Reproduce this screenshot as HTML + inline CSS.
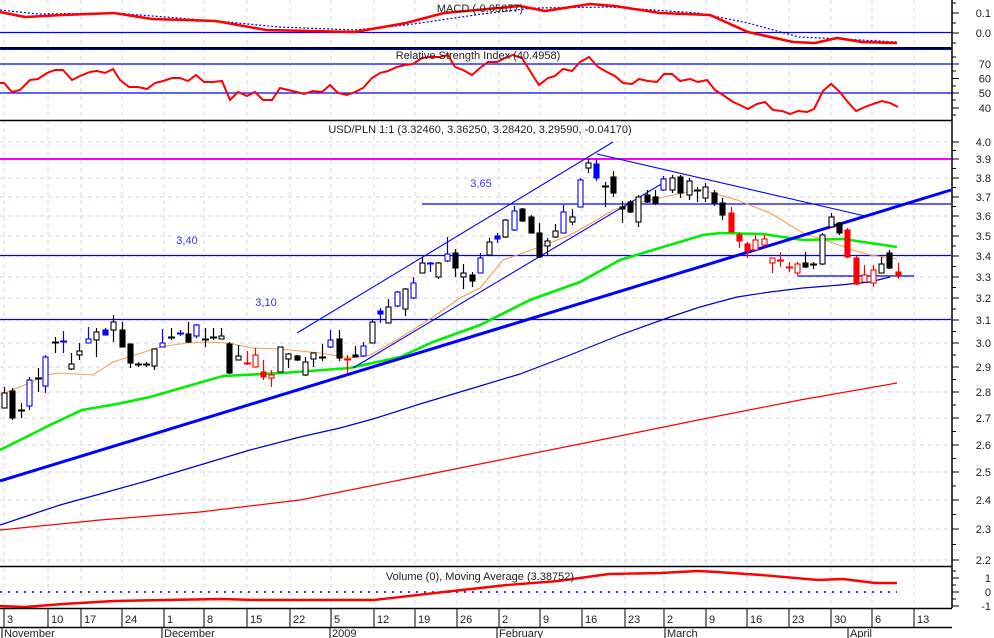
<!DOCTYPE html>
<html><head><meta charset="utf-8">
<style>
html,body{margin:0;padding:0;background:#fff;}
svg{display:block;font-family:"Liberation Sans",sans-serif;}
</style></head>
<body>
<svg id="c" width="994" height="638" viewBox="0 0 994 638" xmlns="http://www.w3.org/2000/svg">
<rect width="994" height="638" fill="#fff"/>
<g id="grid"></g>
<!-- MACD -->
<line x1="0" y1="32.5" x2="952" y2="32.5" stroke="#0000ff" stroke-width="1.3"/>
<polyline fill="none" stroke="#0000cc" stroke-width="1.2" stroke-dasharray="2,2" points="0,10 38,14 114,13 165,17 228,22 279,27 355,30 406,25 482,14 533,8 609,7 698,13 748,23 799,37 843,39 897,42"/>
<polyline fill="none" stroke="#ff0000" stroke-width="2.6" points="0,12 25,17 63,15 114,13 152,19 216,21 266,30 355,32 406,23 444,13 520,6 545,11 590,4 615,6 660,13 710,15 748,32 793,42 815,43 837,38 862,42 897,43"/>
<text x="480" y="12" font-size="11" text-anchor="middle" fill="#222">MACD (-0.05677)</text>
<line x1="0" y1="48" x2="952" y2="48" stroke="#000" stroke-width="2"/>
<line x1="0" y1="49.5" x2="952" y2="49.5" stroke="#0000ff" stroke-width="1"/>
<!-- RSI -->
<line x1="0" y1="64" x2="952" y2="64" stroke="#0000ff" stroke-width="1.3"/>
<line x1="0" y1="93" x2="952" y2="93" stroke="#0000ff" stroke-width="1.3"/>
<polyline fill="none" stroke="#ff0000" stroke-width="2" points="0,83 4,83 12,92 20,90 30,80 38,79 47,73 55,70 63,70 72,80 80,76 90,72 97,71 105,73 113,69 120,80 129,87 138,87 147,89 155,83 163,81 172,78 180,78 188,81 196,75 204,82 213,82 222,81 230,100 238,92 247,96 255,92 263,100 272,100 280,88 288,90 297,92 304,94 313,91 322,92 330,85 338,93 347,95 355,92 363,88 372,78 380,73 388,71 397,67 405,65 413,64 422,58 430,57 440,57 448,55 455,67 463,70 472,75 480,68 488,62 497,62 505,58 513,55 522,58 530,71 539,85 548,78 555,76 563,69 572,71 580,62 589,57 598,67 607,72 615,76 623,83 632,84 639,79 648,81 657,82 664,74 672,74 680,81 690,79 698,82 707,80 715,90 723,95 733,102 740,105 748,109 757,104 765,102 773,110 782,111 790,114 798,111 807,112 814,109 823,91 831,84 839,91 847,101 856,111 865,107 873,104 882,101 890,103 898,107"/>
<text x="478" y="59" font-size="11" text-anchor="middle" fill="#222">Relative Strength Index (40.4958)</text>
<line x1="0" y1="120.5" x2="952" y2="120.5" stroke="#000" stroke-width="1.5"/>
<!-- Main -->
<text x="480" y="133" font-size="11" text-anchor="middle" fill="#222">USD/PLN 1:1 (3.32460, 3.36250, 3.28420, 3.29590, -0.04170)</text>
<line x1="0" y1="159" x2="951" y2="159" stroke="#ff00ff" stroke-width="2"/>
<line x1="0" y1="255.5" x2="951" y2="255.5" stroke="#0000ff" stroke-width="1.2"/>
<line x1="0" y1="319.5" x2="951" y2="319.5" stroke="#0000ff" stroke-width="1.2"/>
<line x1="422" y1="204" x2="951" y2="204" stroke="#0000ff" stroke-width="1.2"/>
<line x1="797" y1="276" x2="914" y2="276" stroke="#0000ff" stroke-width="1.2"/>
<text x="187" y="244" font-size="11" text-anchor="middle" fill="#3333ff">3,40</text>
<text x="266" y="306" font-size="11" text-anchor="middle" fill="#3333ff">3,10</text>
<text x="481" y="187" font-size="11" text-anchor="middle" fill="#3333ff">3,65</text>
<!-- MAs -->
<polyline fill="none" stroke="#ff0000" stroke-width="1.2" points="0,530 100,520 200,512 300,500 400,480 500,460 600,440 703,419 800,400 897,383"/>
<polyline fill="none" stroke="#0000cc" stroke-width="1.2" points="0,525 30,515 60,505 100,494 150,480 200,465 250,450 300,437 340,428 373,419 420,404 480,386 520,374 570,355 620,335 670,317 700,307 737,297 770,292 803,288 840,285 870,282 890,277"/>
<polyline fill="none" stroke="#00ee00" stroke-width="2.6" points="0,450 20,440 50,425 82,410 117,404 150,397 223,376 283,373 350,368 400,357 433,342 480,325 530,300 580,282 620,260 653,250 703,235 720,233 763,234 803,240 843,239 897,247"/>
<polyline fill="none" stroke="#f5a050" stroke-width="1.1" points="0,395 20,387 47,375 60,373 93,375 113,362 160,347 187,343 207,342 227,343 253,348 280,349 320,353 350,358 370,355 400,338 433,317 460,298 480,288 503,260 537,248 570,235 597,220 613,210 637,203 687,192 703,190 737,200 770,213 803,233 830,242 853,250 870,255 897,259"/>
<!-- trend lines -->
<line x1="0" y1="481" x2="951" y2="190" stroke="#0000ff" stroke-width="3"/>
<line x1="297" y1="333" x2="613" y2="142" stroke="#0000ff" stroke-width="1.1"/>
<line x1="353" y1="368" x2="663" y2="183" stroke="#0000ff" stroke-width="1.1"/>
<line x1="597" y1="154" x2="865" y2="216" stroke="#0000ff" stroke-width="1.1"/>
<g id="candles"></g>
<!-- Volume -->
<line x1="0" y1="566.5" x2="952" y2="566.5" stroke="#000" stroke-width="1.5"/>
<line x1="0" y1="592" x2="897" y2="592" stroke="#0000cc" stroke-width="1.5" stroke-dasharray="2,6"/>
<polyline fill="none" stroke="#ff0000" stroke-width="2.4" points="0,606 25,607 63,604 114,601 165,600 222,599 254,600 374,600 444,592 507,585 558,581 609,574 660,573 698,571 717,572 761,575 818,580 843,579 875,583 897,583"/>
<text x="480" y="580" font-size="11" text-anchor="middle" fill="#222">Volume (0), Moving Average (3.38752)</text>
<!-- date axis -->
<line x1="0" y1="608.5" x2="952" y2="608.5" stroke="#000" stroke-width="1.5"/>
<line x1="0" y1="627.5" x2="952" y2="627.5" stroke="#000" stroke-width="1.5"/>
<line x1="952" y1="0" x2="952" y2="608" stroke="#000" stroke-width="1.5"/>
<g id="axis"></g>
</svg>
<script>
(function(){
var NS="http://www.w3.org/2000/svg";
function el(p,t,a,txt){var e=document.createElementNS(NS,t);for(var k in a)e.setAttribute(k,a[k]);if(txt!==undefined)e.textContent=txt;p.appendChild(e);return e;}
var grid=document.getElementById('grid'),axis=document.getElementById('axis'),cg=document.getElementById('candles');
var weeks=[[4,'3'],[48,'10'],[81,'17'],[122,'24'],[164,'1'],[204,'8'],[247,'15'],[290,'22'],[331,'5'],[374,'12'],[415,'19'],[457,'26'],[499,'2'],[540,'9'],[582,'16'],[625,'23'],[664,'2'],[706,'9'],[747,'16'],[789,'23'],[831,'30'],[872,'6'],[914,'13']];
weeks.forEach(function(w){
 el(grid,'line',{x1:w[0],y1:0,x2:w[0],y2:607,stroke:'#d4d4ee','stroke-dasharray':'4,4','stroke-width':1});
 el(axis,'line',{x1:w[0],y1:608,x2:w[0],y2:627,stroke:'#000','stroke-width':1});
 el(axis,'text',{x:w[0]+3,y:623,'font-size':11,fill:'#222'},w[1]);
});
[[3,'November'],[163,'December'],[331,'2009'],[498,'February'],[666,'March'],[849,'April']].forEach(function(m){
 el(axis,'line',{x1:m[0]-1,y1:627,x2:m[0]-1,y2:638,stroke:'#000','stroke-width':1});
 el(axis,'text',{x:m[0]+1,y:637,'font-size':11,fill:'#222'},m[1]);
});
var P=[['4.0',142],['3.9',159],['3.8',178],['3.7',197],['3.6',216],['3.5',236],['3.4',256],['3.3',277],['3.2',298],['3.1',320],['3.0',343],['2.9',367],['2.8',392],['2.7',418],['2.6',445],['2.5',472],['2.4',500],['2.3',529],['2.2',560]];
P.forEach(function(p,i){
 el(grid,'line',{x1:0,y1:p[1],x2:951,y2:p[1],stroke:'#d4d4ee','stroke-dasharray':'4,4','stroke-width':1});
 el(axis,'line',{x1:952,y1:p[1],x2:959,y2:p[1],stroke:'#000'});
 if(i<P.length-1){var m=(p[1]+P[i+1][1])/2;el(axis,'line',{x1:952,y1:m,x2:956,y2:m,stroke:'#000'});}
 el(axis,'text',{x:991,y:p[1]+4,'font-size':11,'text-anchor':'end',fill:'#222'},p[0]);
});
[['0.1',13],['0.0',33]].forEach(function(p){el(axis,'line',{x1:952,y1:p[1],x2:959,y2:p[1],stroke:'#000'});el(axis,'text',{x:991,y:p[1]+4,'font-size':11,'text-anchor':'end',fill:'#222'},p[0]);});
[3,23,43].forEach(function(y){el(axis,'line',{x1:952,y1:y,x2:956,y2:y,stroke:'#000'});});
[['70',64],['60',78.5],['50',93],['40',108]].forEach(function(p){el(axis,'line',{x1:952,y1:p[1],x2:959,y2:p[1],stroke:'#000'});el(axis,'text',{x:991,y:p[1]+4,'font-size':11,'text-anchor':'end',fill:'#222'},p[0]);});
[57,71,86,100,115].forEach(function(y){el(axis,'line',{x1:952,y1:y,x2:956,y2:y,stroke:'#000'});});
[['1',578],['0',592],['-1',606]].forEach(function(p){el(axis,'line',{x1:952,y1:p[1],x2:959,y2:p[1],stroke:'#000'});el(axis,'text',{x:991,y:p[1]+4,'font-size':11,'text-anchor':'end',fill:'#222'},p[0]);});
[571,585,599].forEach(function(y){el(axis,'line',{x1:952,y1:y,x2:956,y2:y,stroke:'#000'});});
var C=[[4,387,393,408,408,'w'],[12,388,391,418,420,'b'],[21,403,410,410,418,'b'],[29,377,380,406,410,'B'],[38,368,378,378,392,'w'],[45,355,357,386,393,'B'],[55,337,342,342,353,'w'],[63,331,341,341,353,'B'],[71,353,364,369,370,'w'],[79,343,351,355,360,'w'],[88,327,339,343,343,'B'],[96,328,332,340,357,'w'],[105,328,330,335,335,'F'],[113,315,322,330,342,'w'],[122,322,330,347,347,'b'],[130,344,344,363,368,'b'],[138,362,364,364,367,'b'],[146,362,364,364,367,'b'],[154,349,349,366,370,'w'],[162,329,343,347,347,'B'],[171,328,337,337,340,'b'],[180,330,333,333,336,'B'],[188,322,334,342,343,'b'],[196,324,325,336,338,'B'],[205,328,339,339,347,'b'],[213,328,337,337,340,'b'],[221,328,336,339,339,'w'],[229,342,344,373,374,'b'],[238,345,356,360,360,'w'],[247,351,363,363,365,'R'],[255,348,355,367,367,'r'],[263,360,372,377,380,'R'],[271,370,375,378,387,'r'],[280,347,347,372,372,'w'],[288,353,354,359,368,'w'],[297,355,356,360,361,'b'],[305,357,362,375,376,'w'],[313,353,353,359,367,'w'],[322,344,357,357,361,'b'],[330,330,340,347,348,'B'],[339,330,339,358,361,'b'],[347,355,359,359,373,'R'],[355,346,355,357,357,'b'],[363,342,346,356,357,'B'],[372,320,322,343,343,'w'],[380,308,311,314,323,'F'],[388,299,307,323,323,'w'],[397,291,292,306,307,'B'],[405,288,289,309,316,'w'],[413,277,283,298,299,'B'],[422,257,263,273,273,'w'],[430,262,263,263,272,'B'],[438,262,263,277,279,'w'],[447,237,254,261,262,'B'],[455,249,253,268,277,'b'],[463,264,273,277,289,'w'],[472,272,275,281,287,'b'],[480,253,258,273,273,'B'],[489,238,242,255,255,'w'],[497,233,236,239,243,'F'],[505,219,220,237,238,'w'],[514,206,211,230,231,'B'],[522,208,209,221,222,'b'],[531,215,217,233,233,'b'],[539,223,233,257,258,'b'],[547,238,241,246,255,'w'],[555,224,231,237,238,'w'],[563,205,212,233,233,'B'],[572,209,217,222,225,'w'],[580,178,180,207,207,'B'],[588,159,163,168,173,'w'],[596,159,164,178,181,'F'],[605,182,186,186,207,'b'],[613,171,177,193,197,'b'],[622,201,207,209,223,'b'],[630,200,202,212,213,'b'],[638,195,197,222,227,'w'],[647,190,195,202,203,'b'],[655,190,197,203,205,'b'],[663,176,179,190,191,'B'],[672,175,178,190,193,'w'],[680,175,177,193,198,'b'],[689,178,181,195,200,'w'],[697,187,190,191,202,'b'],[705,183,187,198,202,'w'],[714,190,193,203,206,'b'],[722,198,203,215,220,'b'],[731,207,213,232,232,'R'],[739,233,235,241,248,'R'],[747,242,244,251,258,'R'],[755,235,240,250,251,'r'],[764,235,239,245,247,'r'],[772,258,258,263,273,'r'],[780,252,260,260,267,'R'],[789,262,267,267,272,'R'],[797,262,264,273,275,'r'],[805,252,263,267,268,'b'],[813,262,264,264,269,'b'],[822,233,235,264,265,'w'],[831,213,217,227,228,'w'],[839,222,223,233,235,'b'],[847,228,230,257,258,'R'],[856,256,258,284,285,'R'],[864,265,275,282,282,'r'],[873,265,270,283,287,'r'],[881,257,264,273,273,'w'],[889,250,253,268,269,'b'],[898,263,272,276,279,'R']];
var S={w:['#fff','#000'],b:['#000','#000'],B:['#fff','#0000ff'],F:['#0000ff','#0000ff'],R:['#ff0000','#ff0000'],r:['#fff','#ff0000']};
C.forEach(function(c){
 var s=S[c[5]],x=c[0];
 el(cg,'line',{x1:x+0.5,y1:c[1],x2:x+0.5,y2:c[4],stroke:s[1],'stroke-width':1.2});
 if(c[3]-c[2]<1.5){el(cg,'line',{x1:x-3,y1:c[2]+0.5,x2:x+4,y2:c[2]+0.5,stroke:s[1],'stroke-width':2});}
 else el(cg,'rect',{x:x-2,y:c[2],width:5,height:c[3]-c[2],fill:s[0],stroke:s[1],'stroke-width':1.1});
});
})();
</script>
</body></html>
